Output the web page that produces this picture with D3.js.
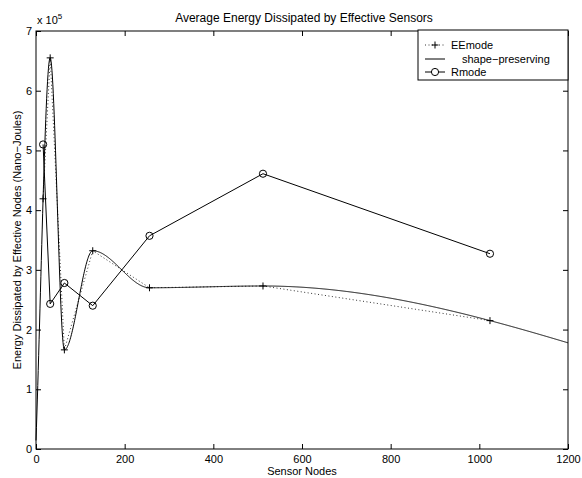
<!DOCTYPE html>
<html>
<head>
<meta charset="utf-8">
<script src="https://cdn.jsdelivr.net/npm/d3@7"></script>
<style>
  body { margin: 0; background: #fff; }
  svg { display: block; font-family: "Liberation Sans", Arial, Helvetica, sans-serif; }
</style>
</head>
<body>
<svg id="chart" width="582" height="478"></svg>
<script>
// ---- data ----
const sensorNodes = [16, 32, 64, 128, 256, 512, 1024];
const eeMode = [4.19e5, 6.55e5, 1.66e5, 3.32e5, 2.70e5, 2.73e5, 2.15e5];
const rMode  = [5.10e5, 2.43e5, 2.78e5, 2.40e5, 3.57e5, 4.61e5, 3.27e5];
const xTicks = [0, 200, 400, 600, 800, 1000, 1200];
const yTicks = [0, 1, 2, 3, 4, 5, 6, 7];
const yExponent = 5;
const titleText = "Average Energy Dissipated by Effective Sensors";
const xLabelText = "Sensor Nodes";
const yLabelText = "Energy Dissipated by Effective Nodes (Nano\u2212Joules)";
const legendLabels = ["EEmode", "shape\u2212preserving", "Rmode"];

// ---- pchip (shape-preserving) interpolant, as in MATLAB ----
function pchipSlopes(x, y) {
  const n = x.length, h = [], del = [];
  for (let i = 0; i < n - 1; i++) { h[i] = x[i+1] - x[i]; del[i] = (y[i+1] - y[i]) / h[i]; }
  const d = new Array(n).fill(0);
  for (let k = 1; k < n - 1; k++) {
    if (del[k-1] * del[k] > 0) {
      const w1 = 2*h[k] + h[k-1], w2 = h[k] + 2*h[k-1];
      d[k] = (w1 + w2) / (w1/del[k-1] + w2/del[k]);
    }
  }
  function endSlope(h0, h1, d0, d1) {
    let s = ((2*h0 + h1)*d0 - h0*d1) / (h0 + h1);
    if (Math.sign(s) !== Math.sign(d0)) s = 0;
    else if (Math.sign(d0) !== Math.sign(d1) && Math.abs(s) > Math.abs(3*d0)) s = 3*d0;
    return s;
  }
  d[0] = endSlope(h[0], h[1], del[0], del[1]);
  d[n-1] = endSlope(h[n-2], h[n-3], del[n-2], del[n-3]);
  return { h, del, d };
}
function pchipEval(x, y, xq) {
  const { h, del, d } = pchipSlopes(x, y);
  const n = x.length;
  return xq.map(v => {
    let k = 0;
    while (k < n - 2 && v >= x[k+1]) k++;
    const t = v - x[k];
    const c = (3*del[k] - 2*d[k] - d[k+1]) / h[k];
    const b = (d[k] - 2*del[k] + d[k+1]) / (h[k]*h[k]);
    return y[k] + t*(d[k] + t*(c + t*b));
  });
}

// ---- layout ----
const svg = d3.select("#chart");
const L = 36, R = 568, T = 31, B = 449;
const x = d3.scaleLinear().domain([0, 1200]).range([L, R]);
const y = d3.scaleLinear().domain([0, 7e5]).range([B, T]);
const fs = 11;

// axes box with inward ticks
const tickLen = 5;
svg.append("g").attr("transform", `translate(0,${B})`)
  .call(d3.axisBottom(x).tickValues(xTicks).tickSizeInner(-tickLen).tickSizeOuter(0)
    .tickPadding(6).tickFormat(d3.format("d")));
svg.append("g").attr("transform", `translate(0,${T})`)
  .call(d3.axisTop(x).tickValues(xTicks).tickSizeInner(-tickLen).tickSizeOuter(0).tickFormat(""));
svg.append("g").attr("transform", `translate(${L},0)`)
  .call(d3.axisLeft(y).tickValues(yTicks.map(v => v * Math.pow(10, yExponent)))
    .tickSizeInner(-tickLen).tickSizeOuter(0).tickPadding(4)
    .tickFormat(v => d3.format("d")(v / Math.pow(10, yExponent))));
svg.append("g").attr("transform", `translate(${R},0)`)
  .call(d3.axisRight(y).tickValues(yTicks.map(v => v * Math.pow(10, yExponent)))
    .tickSizeInner(-tickLen).tickSizeOuter(0).tickFormat(""));
svg.selectAll(".domain").remove();
svg.selectAll(".tick line").attr("stroke", "#000").attr("stroke-width", 1);
svg.selectAll(".tick text").attr("font-size", fs).attr("fill", "#000")
  .attr("font-family", "Liberation Sans, Arial, sans-serif");

// series
const lineGen = d3.line().x(d => x(d[0])).y(d => y(d[1]));
const eePts = sensorNodes.map((v, i) => [v, eeMode[i]]);
const rPts = sensorNodes.map((v, i) => [v, rMode[i]]);

const gPlot = svg.append("g");
// EEmode dotted line
gPlot.append("path").attr("d", lineGen(eePts)).attr("fill", "none")
  .attr("stroke", "#000").attr("stroke-width", 0.8).attr("stroke-dasharray", "1,2.5");
// shape-preserving fit
const xq = d3.range(0, 1200.5, 1);
const yq = pchipEval(sensorNodes, eeMode, xq);
gPlot.append("path").attr("d", lineGen(xq.map((v, i) => [v, yq[i]]))).attr("fill", "none")
  .attr("stroke", "#000").attr("stroke-width", 1);
// EEmode markers
const plus = (g, cx, cy, s) => g.append("path")
  .attr("d", `M${cx - s},${cy}H${cx + s}M${cx},${cy - s}V${cy + s}`)
  .attr("stroke", "#000").attr("stroke-width", 1).attr("fill", "none");
eePts.forEach(p => plus(gPlot, x(p[0]), y(p[1]), 3.5));
// Rmode line and markers
gPlot.append("path").attr("d", lineGen(rPts)).attr("fill", "none")
  .attr("stroke", "#000").attr("stroke-width", 1);
gPlot.selectAll("circle.r").data(rPts).enter().append("circle")
  .attr("cx", d => x(d[0])).attr("cy", d => y(d[1])).attr("r", 3.6)
  .attr("fill", "none").attr("stroke", "#000").attr("stroke-width", 1);

// frame
svg.append("rect").attr("x", L).attr("y", T).attr("width", R - L).attr("height", B - T)
  .attr("fill", "none").attr("stroke", "#000").attr("stroke-width", 1);

// exponent label
const ex = svg.append("text").attr("x", L + 1).attr("y", 24).attr("font-size", fs).attr("fill", "#000");
ex.append("tspan").text("x 10");
ex.append("tspan").attr("dy", -5).attr("font-size", 8).text(yExponent);

// title and labels
svg.append("text").attr("x", 304).attr("y", 22).attr("text-anchor", "middle")
  .attr("font-size", 12).attr("fill", "#000").text(titleText);
svg.append("text").attr("x", (L + R) / 2).attr("y", 475).attr("text-anchor", "middle")
  .attr("font-size", fs).attr("fill", "#000").text(xLabelText);
svg.append("text").attr("transform", `translate(21,${(T + B) / 2}) rotate(-90)`)
  .attr("text-anchor", "middle").attr("font-size", fs).attr("fill", "#000").text(yLabelText);

// legend
const lg = svg.append("g");
lg.append("rect").attr("x", 418).attr("y", 30).attr("width", 150).attr("height", 50)
  .attr("fill", "#fff").attr("stroke", "#000").attr("stroke-width", 1);
const rows = [45, 59, 72];
// EEmode
lg.append("line").attr("x1", 425).attr("x2", 445).attr("y1", rows[0]).attr("y2", rows[0])
  .attr("stroke", "#000").attr("stroke-width", 0.8).attr("stroke-dasharray", "1,2.5");
plus(lg, 435, rows[0], 3.5);
lg.append("text").attr("x", 451).attr("y", rows[0] + 4).attr("font-size", fs).text(legendLabels[0]);
// shape-preserving
lg.append("line").attr("x1", 425).attr("x2", 445).attr("y1", rows[1]).attr("y2", rows[1])
  .attr("stroke", "#000").attr("stroke-width", 1);
lg.append("text").attr("x", 462).attr("y", rows[1] + 4).attr("font-size", fs).text(legendLabels[1]);
// Rmode
lg.append("line").attr("x1", 425).attr("x2", 445).attr("y1", rows[2]).attr("y2", rows[2])
  .attr("stroke", "#000").attr("stroke-width", 1);
lg.append("circle").attr("cx", 435).attr("cy", rows[2]).attr("r", 3.6)
  .attr("fill", "#fff").attr("stroke", "#000").attr("stroke-width", 1);
lg.append("text").attr("x", 451).attr("y", rows[2] + 4).attr("font-size", fs).text(legendLabels[2]);
</script>
</body>
</html>
